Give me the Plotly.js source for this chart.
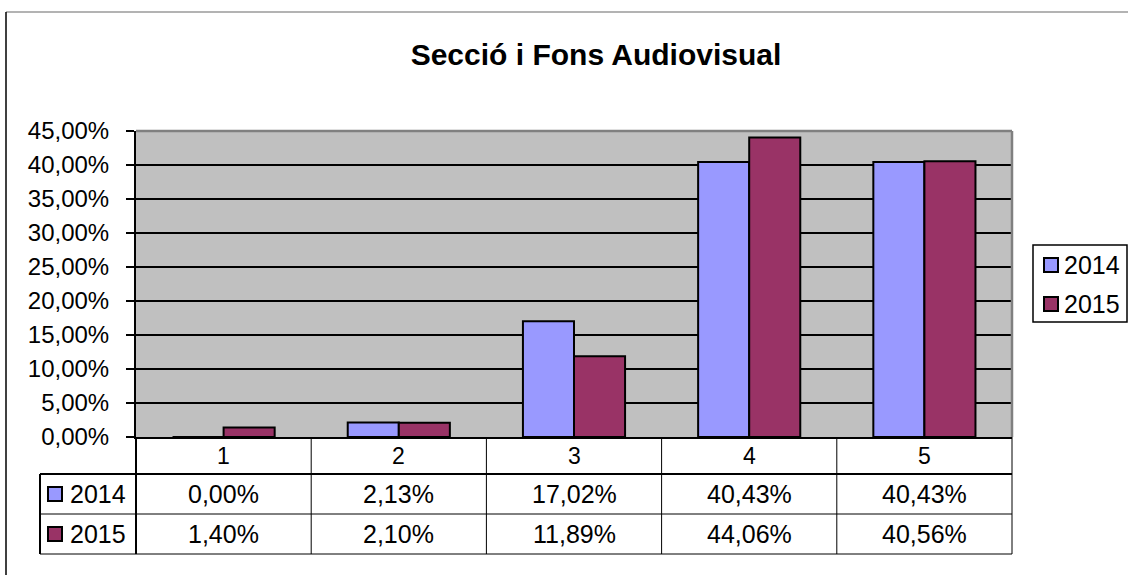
<!DOCTYPE html>
<html>
<head>
<meta charset="utf-8">
<script src="https://cdn.plot.ly/plotly-3.0.1.min.js"></script>
<style>html,body{margin:0;padding:0;background:#fff;}#chart{width:1128px;height:575px;}</style>
</head>
<body>
<div id="chart"></div>
<script>
// ---- data ----
const chartTitle = "Secció i Fons Audiovisual";
const categories = ["1", "2", "3", "4", "5"];
const seriesNames = ["2014", "2015"];
const values2014 = [0.00, 2.13, 17.02, 40.43, 40.43];
const values2015 = [1.40, 2.10, 11.89, 44.06, 40.56];
const seriesColors = ["#9999FF", "#993366"];

// ---- layout geometry (pixels) ----
const W = 1128, H = 575;
const PL = 136, PR = 1012, PT = 131, PB = 437;
const pw = PR - PL, ph = PB - PT;
const px = v => (v - PL) / pw;      // pixel x -> paper x
const py = v => (PB - v) / ph;      // pixel y -> paper y
const fmt = v => v.toFixed(2).replace('.', ',') + '%';
const FONT = "Liberation Sans, Arial, sans-serif";

const allSeries = [values2014, values2015];
const traces = allSeries.map((vals, k) => ({
  type: 'bar',
  name: seriesNames[k],
  x: categories,
  y: vals,
  marker: {color: seriesColors[k], line: {color: '#000', width: 2}},
  hoverinfo: 'skip'
}));

const shapes = [];
const annotations = [];
const line = (x0, y0, x1, y1, color, width) => shapes.push({
  type: 'line', xref: 'paper', yref: 'paper',
  x0: px(x0), y0: py(y0), x1: px(x1), y1: py(y1),
  line: {color: color, width: width}, layer: 'above'
});
const box = (x0, y0, x1, y1, fill, lw) => shapes.push({
  type: 'rect', xref: 'paper', yref: 'paper',
  x0: px(x0), x1: px(x1), y0: py(y0), y1: py(y1),
  fillcolor: fill, line: {color: '#000', width: lw}, layer: 'above'
});
const label = (x, y, text, size, anchor) => annotations.push({
  x: x, xref: 'paper', y: py(y), yref: 'paper', text: text, showarrow: false,
  xanchor: anchor, yanchor: 'middle', font: {family: FONT, size: size, color: '#000'}
});

// outer chart frame
line(6, 12, W, 12, '#9a9a9a', 1.5);
line(6, 12, 6, H, '#000', 1.5);
// plot area top/right border
line(PL, PT, PR, PT, '#808080', 2.5);
line(PR, PT, PR, PB, '#808080', 2.5);

// data table
const rowTop = 474, rowMid = 514, rowBot = 554, keyLeft = 40;
line(keyLeft, rowTop, PR, rowTop, '#000', 2);
line(keyLeft, rowMid, PR, rowMid, '#000', 1);
line(keyLeft, rowBot, PR, rowBot, '#000', 1);
line(keyLeft, rowTop, keyLeft, rowBot, '#000', 2);
line(PL, PB, PL, rowBot, '#000', 2);
const n = categories.length;
for (let i = 1; i <= n; i++) {
  const xb = PL + pw * i / n;
  line(xb, PB, xb, rowBot, '#000', 1);
}

const rowCenters = [494, 534];
// category header labels (x given as category index)
categories.forEach((c, i) => annotations.push({
  x: i, xref: 'x', y: py(455.5), yref: 'paper', text: c, showarrow: false,
  xanchor: 'center', yanchor: 'middle', font: {family: FONT, size: 23, color: '#000'}
}));
// series rows
allSeries.forEach((vals, k) => {
  const yc = rowCenters[k];
  box(48, yc - 7, 62, yc + 7, seriesColors[k], 2);
  label(px(68), yc, seriesNames[k], 25, 'left');
  vals.forEach((v, i) => annotations.push({
    x: i, xref: 'x', y: py(yc), yref: 'paper', text: fmt(v),
    showarrow: false, xanchor: 'center', yanchor: 'middle',
    font: {family: FONT, size: 25, color: '#000'}
  }));
});

// legend (drawn manually to match the reference box)
box(1033, 245, 1127, 322, '#fff', 1.5);
const legendCenters = [265, 304];
seriesNames.forEach((name, k) => {
  const yc = legendCenters[k];
  box(1044, yc - 7, 1058, yc + 7, seriesColors[k], 2);
  label(px(1062), yc, name, 25, 'left');
});

const layout = {
  width: W, height: H,
  margin: {l: PL, r: W - PR, t: PT, b: H - PB, pad: 0, autoexpand: false},
  paper_bgcolor: '#fff',
  plot_bgcolor: '#C0C0C0',
  separators: ',.',
  title: {
    text: chartTitle,
    x: 596 / W, xref: 'container', xanchor: 'center',
    y: 1 - 54 / H, yref: 'container', yanchor: 'middle',
    font: {family: FONT, size: 30, weight: 'bold', color: '#000'}
  },
  barmode: 'group',
  bargap: 0.417,
  bargroupgap: 0,
  xaxis: {
    type: 'category',
    range: [-0.5, categories.length - 0.5],
    showticklabels: false,
    ticks: '',
    showgrid: false,
    zeroline: false,
    showline: true, linecolor: '#000', linewidth: 2,
    fixedrange: true
  },
  yaxis: {
    range: [0, 45],
    dtick: 5,
    tick0: 0,
    tickformat: '.2f',
    ticksuffix: '%',
    ticks: 'outside', ticklen: 8, tickwidth: 2, tickcolor: '#000',
    ticklabelstandoff: 12,
    showgrid: true, gridcolor: '#000', gridwidth: 1.5,
    zeroline: false,
    showline: true, linecolor: '#000', linewidth: 2,
    tickfont: {family: FONT, size: 24, color: '#000'},
    fixedrange: true
  },
  showlegend: false,
  shapes: shapes,
  annotations: annotations
};

Plotly.newPlot('chart', traces, layout, {displayModeBar: false, staticPlot: true});
</script>
</body>
</html>
